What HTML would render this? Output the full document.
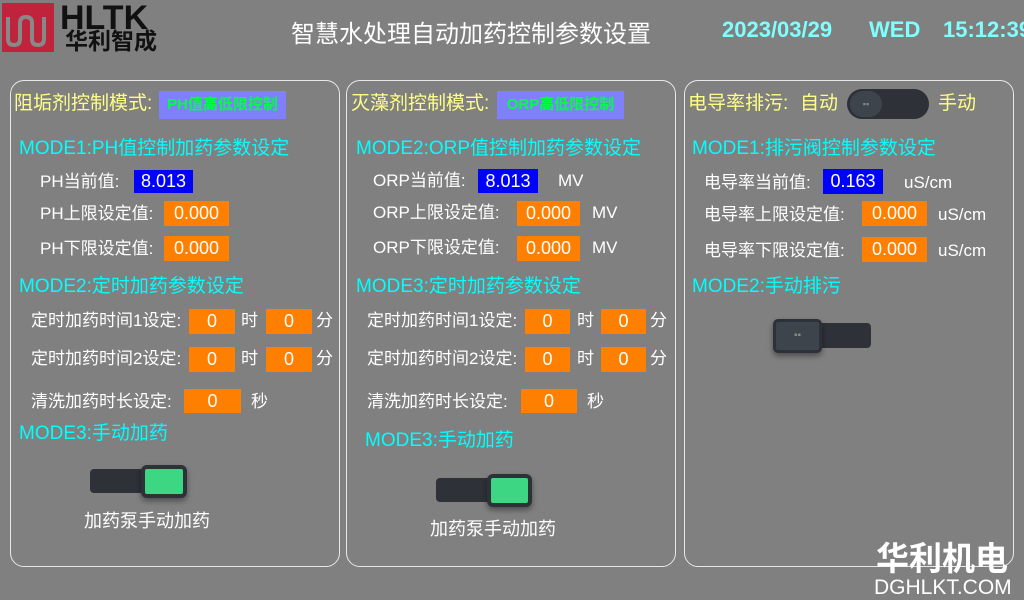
<!DOCTYPE html>
<html><head><meta charset="utf-8"><style>
body{margin:0;width:1024px;height:600px;background:#808080;position:relative;overflow:hidden;font-family:"Liberation Sans","Noto Sans CJK SC",sans-serif;}
.a{position:absolute;white-space:nowrap;line-height:1;}
.p{position:absolute;border:1.5px solid #e8e8e8;border-radius:14px;}
.y{color:#ffff88;font-size:19px;}
.c{color:#00ffff;font-size:19px;}
.w{color:#fff;font-size:17px;}
.b{position:absolute;background:#0000ff;color:#fff;font-size:18px;text-align:center;}
.o{position:absolute;background:#ff8000;color:#fff;font-size:18px;text-align:center;}
.bd{position:absolute;background:#8080ff;color:#00ff40;font-weight:bold;font-size:15px;text-align:center;}
.tr{position:absolute;background:#2e3238;border-radius:4px;}
.kg{position:absolute;background:#3dd682;border:4px solid #2e3238;border-radius:6px;box-shadow:0 3px 6px rgba(0,0,0,.4);box-sizing:border-box;}
.d{position:absolute;white-space:nowrap;line-height:1;top:19px;font-size:22px;font-weight:bold;color:#80ffff;}
</style></head><body>
<div class="a" style="left:2px;top:3px;width:52px;height:49px;background:#c0243c;"></div>
<svg class="a" style="left:2px;top:3px" width="52" height="49"><path d="M6 14 V36 Q6 42 12 42 Q18 42 18 36 V20 Q18 14 24 14 Q30 14 30 20 V36 Q30 42 36 42 Q42 42 42 36 V14" stroke="#888" stroke-width="4" fill="none"/></svg>
<div class="a" style="left:60px;top:1px;font-size:34px;font-weight:bold;color:#111;">HLTK</div>
<div class="a" style="left:65px;top:30px;font-size:23px;font-weight:bold;color:#111;">华利智成</div>
<div class="a" style="left:291px;top:23px;font-size:24px;color:#fff;">智慧水处理自动加药控制参数设置</div>
<div class="d" style="left:722px;">2023/03/29</div>
<div class="d" style="left:869px;">WED</div>
<div class="d" style="left:943px;">15:12:39</div>

<div class="p" style="left:10px;top:80px;width:328px;height:485px;"></div>
<div class="p" style="left:346px;top:80px;width:328px;height:485px;"></div>
<div class="p" style="left:684px;top:80px;width:328px;height:485px;"></div>

<!-- left -->
<div class="a y" style="left:14px;top:94px;">阻垢剂控制模式:</div>
<div class="bd" style="left:159px;top:91px;width:127px;height:28px;line-height:28px;">PH值高低限控制</div>
<div class="a c" style="left:19px;top:139px;">MODE1:PH值控制加药参数设定</div>
<div class="a w" style="left:40px;top:173px;">PH当前值:</div>
<div class="b" style="left:134px;top:170px;width:59px;height:23px;line-height:23px;">8.013</div>
<div class="a w" style="left:40px;top:205px;">PH上限设定值:</div>
<div class="o" style="left:164px;top:201px;width:65px;height:25px;line-height:25px;">0.000</div>
<div class="a w" style="left:40px;top:240px;">PH下限设定值:</div>
<div class="o" style="left:164px;top:236px;width:65px;height:25px;line-height:25px;">0.000</div>
<div class="a c" style="left:19px;top:277px;">MODE2:定时加药参数设定</div>
<div class="a w" style="left:31px;top:312px;">定时加药时间1设定:</div>
<div class="o" style="left:189px;top:309px;width:46px;height:25px;line-height:25px;">0</div>
<div class="a w" style="left:241px;top:312px;">时</div>
<div class="o" style="left:266px;top:309px;width:46px;height:25px;line-height:25px;">0</div>
<div class="a w" style="left:316px;top:312px;">分</div>
<div class="a w" style="left:31px;top:350px;">定时加药时间2设定:</div>
<div class="o" style="left:189px;top:347px;width:46px;height:25px;line-height:25px;">0</div>
<div class="a w" style="left:241px;top:350px;">时</div>
<div class="o" style="left:266px;top:347px;width:46px;height:25px;line-height:25px;">0</div>
<div class="a w" style="left:316px;top:350px;">分</div>
<div class="a w" style="left:31px;top:393px;">清洗加药时长设定:</div>
<div class="o" style="left:184px;top:389px;width:57px;height:24px;line-height:24px;">0</div>
<div class="a w" style="left:251px;top:393px;">秒</div>
<div class="a c" style="left:19px;top:424px;">MODE3:手动加药</div>
<div class="tr" style="left:90px;top:469px;width:85px;height:24px;"></div>
<div class="kg" style="left:141px;top:465px;width:46px;height:33px;"></div>
<div class="a w" style="left:84px;top:512px;font-size:18px;">加药泵手动加药</div>

<!-- middle -->
<div class="a y" style="left:351px;top:94px;">灭藻剂控制模式:</div>
<div class="bd" style="left:497px;top:91px;width:127px;height:28px;line-height:28px;">ORP高低限控制</div>
<div class="a c" style="left:356px;top:139px;">MODE2:ORP值控制加药参数设定</div>
<div class="a w" style="left:373px;top:172px;">ORP当前值:</div>
<div class="b" style="left:478px;top:169px;width:60px;height:24px;line-height:24px;">8.013</div>
<div class="a w" style="left:558px;top:172px;">MV</div>
<div class="a w" style="left:373px;top:204px;">ORP上限设定值:</div>
<div class="o" style="left:517px;top:201px;width:63px;height:25px;line-height:25px;">0.000</div>
<div class="a w" style="left:592px;top:204px;">MV</div>
<div class="a w" style="left:373px;top:239px;">ORP下限设定值:</div>
<div class="o" style="left:517px;top:236px;width:63px;height:25px;line-height:25px;">0.000</div>
<div class="a w" style="left:592px;top:239px;">MV</div>
<div class="a c" style="left:356px;top:277px;">MODE3:定时加药参数设定</div>
<div class="a w" style="left:367px;top:312px;">定时加药时间1设定:</div>
<div class="o" style="left:525px;top:309px;width:45px;height:25px;line-height:25px;">0</div>
<div class="a w" style="left:577px;top:312px;">时</div>
<div class="o" style="left:601px;top:309px;width:45px;height:25px;line-height:25px;">0</div>
<div class="a w" style="left:650px;top:312px;">分</div>
<div class="a w" style="left:367px;top:350px;">定时加药时间2设定:</div>
<div class="o" style="left:525px;top:347px;width:45px;height:25px;line-height:25px;">0</div>
<div class="a w" style="left:577px;top:350px;">时</div>
<div class="o" style="left:601px;top:347px;width:45px;height:25px;line-height:25px;">0</div>
<div class="a w" style="left:650px;top:350px;">分</div>
<div class="a w" style="left:367px;top:393px;">清洗加药时长设定:</div>
<div class="o" style="left:521px;top:389px;width:56px;height:24px;line-height:24px;">0</div>
<div class="a w" style="left:587px;top:393px;">秒</div>
<div class="a c" style="left:365px;top:431px;">MODE3:手动加药</div>
<div class="tr" style="left:436px;top:478px;width:84px;height:24px;"></div>
<div class="kg" style="left:487px;top:474px;width:45px;height:33px;"></div>
<div class="a w" style="left:430px;top:520px;font-size:18px;">加药泵手动加药</div>

<!-- right -->
<div class="a y" style="left:688px;top:94px;">电导率排污:</div>
<div class="a y" style="left:800px;top:94px;">自动</div>
<div class="a" style="left:847px;top:89px;width:82px;height:30px;border-radius:15px;background:#2e3238;"></div>
<div class="a" style="left:850px;top:91px;width:32px;height:26px;border-radius:13px;background:#3e444c;color:#888;font-size:9px;text-align:center;line-height:26px;">▪▪</div>
<div class="a y" style="left:938px;top:94px;">手动</div>
<div class="a c" style="left:692px;top:139px;">MODE1:排污阀控制参数设定</div>
<div class="a w" style="left:704px;top:174px;">电导率当前值:</div>
<div class="b" style="left:823px;top:169px;width:60px;height:25px;line-height:25px;">0.163</div>
<div class="a w" style="left:904px;top:174px;">uS/cm</div>
<div class="a w" style="left:704px;top:206px;">电导率上限设定值:</div>
<div class="o" style="left:862px;top:201px;width:65px;height:25px;line-height:25px;">0.000</div>
<div class="a w" style="left:938px;top:206px;">uS/cm</div>
<div class="a w" style="left:704px;top:242px;">电导率下限设定值:</div>
<div class="o" style="left:862px;top:237px;width:65px;height:25px;line-height:25px;">0.000</div>
<div class="a w" style="left:938px;top:242px;">uS/cm</div>
<div class="a c" style="left:692px;top:277px;">MODE2:手动排污</div>
<div class="tr" style="left:815px;top:323px;width:56px;height:25px;"></div>
<div class="a" style="left:773px;top:319px;width:49px;height:34px;border-radius:5px;background:#3e444c;border:3px solid #2e3238;box-sizing:border-box;box-shadow:0 3px 6px rgba(0,0,0,.4);color:#888;font-size:10px;text-align:center;line-height:28px;">▪▪</div>

<div class="a" style="left:876px;top:542px;font-size:33px;color:#fff;font-weight:bold;">华利机电</div>
<div class="a" style="left:874px;top:577px;font-size:21px;color:#fff;">DGHLKT.COM</div>
</body></html>
